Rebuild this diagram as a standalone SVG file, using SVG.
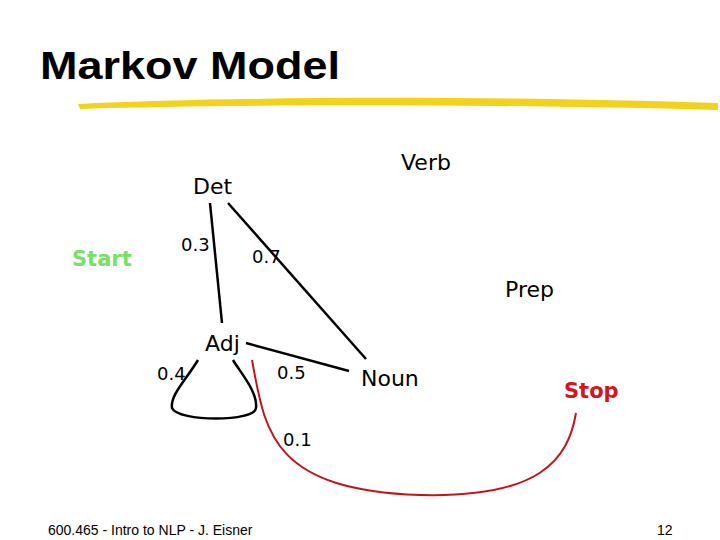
<svg xmlns="http://www.w3.org/2000/svg" width="720" height="540" viewBox="0 0 720 540">
<style>
.t{font-family:"DejaVu Sans",Verdana,sans-serif;font-size:22px;fill:#000}
.p{font-family:"DejaVu Sans",Verdana,sans-serif;font-size:18px;fill:#000}
.e{fill:none;stroke:#000;stroke-width:2.5}
.r{fill:none;stroke:#c0151b;stroke-width:2}
.f{font-family:"Liberation Sans",Arial,sans-serif;font-size:14px;fill:#000}
</style>
<rect width="720" height="540" fill="#fff"/>
<text x="40" y="79" font-family="Liberation Sans,Arial,sans-serif" font-weight="bold" font-size="38" fill="#000" textLength="300" lengthAdjust="spacingAndGlyphs">Markov Model</text>
<path d="M78,104 C250,96 500,96 718,103 L718,110 C500,104 250,104 80,109 Z" fill="#f2d21a"/>
<g id="connectors">
<path class="e" d="M210,203 L222,323"/>
<path class="e" d="M228,203 L366,359"/>
<path class="e" d="M246,343 L349,371"/>
<path class="e" d="M198,360 C186,380 170,395 172,408 C178,422 255,422 256,408 C258,392 240,372 233,360"/>
<path class="r" d="M252,360 C265,430 270,490 420,495 C540,498 568,460 576,413"/>
<text class="p" x="181" y="251">0.3</text>
<text class="p" x="252" y="263">0.7</text>
<text class="p" x="157" y="380">0.4</text>
<text class="p" x="277" y="379">0.5</text>
<text class="p" x="283" y="446">0.1</text>
</g>
<g id="start"><text x="72" y="266" font-family="DejaVu Sans,Verdana,sans-serif" font-weight="bold" font-size="21" fill="#77e067">Start</text></g>
<g id="det"><text class="t" x="193" y="194">Det</text></g>
<g id="verb"><text class="t" x="401" y="170">Verb</text></g>
<g id="prep"><text class="t" x="505" y="297">Prep</text></g>
<g id="adj"><text class="t" x="205" y="351">Adj</text></g>
<g id="noun"><text class="t" x="361" y="386">Noun</text></g>
<g id="stop"><text x="564" y="398" font-family="DejaVu Sans,Verdana,sans-serif" font-weight="bold" font-size="21" fill="#d4151b">Stop</text></g>
<text class="f" x="48" y="535">600.465 - Intro to NLP - J. Eisner</text>
<text class="f" x="657" y="535">12</text>
</svg>
